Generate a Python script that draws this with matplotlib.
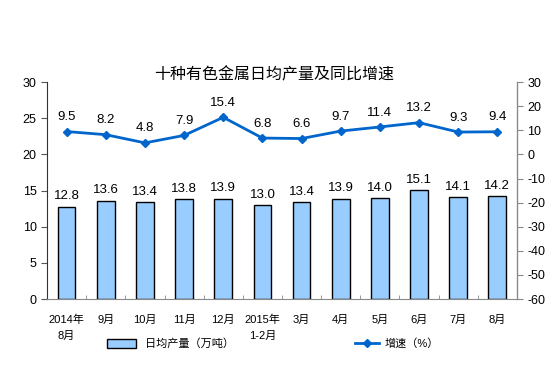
import numpy as np
import matplotlib
matplotlib.use("Agg")
from matplotlib import pyplot as plt
from matplotlib.lines import Line2D
from matplotlib.patches import Patch

plt.rcParams['font.family'] = ['Liberation Sans', 'Noto Sans CJK SC', 'DejaVu Sans']
plt.rcParams['axes.unicode_minus'] = False

months = ["2014年\n8月", "9月", "10月", "11月", "12月", "2015年\n1-2月",
          "3月", "4月", "5月", "6月", "7月", "8月"]
output = [12.8, 13.6, 13.4, 13.8, 13.9, 13.0, 13.4, 13.9, 14.0, 15.1, 14.1, 14.2]
growth = [9.5, 8.2, 4.8, 7.9, 15.4, 6.8, 6.6, 9.7, 11.4, 13.2, 9.3, 9.4]

fig = plt.figure(figsize=(5.54, 3.82), dpi=100)
ax = fig.add_axes([0.085, 0.217, 0.848, 0.568])
ax2 = ax.twinx()

x = np.arange(len(months))
ax.bar(x, output, width=0.45, color="#99CCFF", edgecolor="black", linewidth=1, zorder=2)
for xi, v in zip(x, output):
    ax.text(xi, v + 0.6, f"{v:.1f}", ha="center", va="bottom", fontsize=9.5)

ax2.plot(x, growth, color="#0066CC", lw=2, marker="D", ms=4.5, zorder=3)
for xi, v in zip(x, growth):
    ax2.text(xi, v + 3.5, f"{v:.1f}", ha="center", va="bottom", fontsize=9.5)

ax.set_xlim(-0.5, len(months) - 0.5)
ax.set_ylim(0, 30)
ax.set_yticks(range(0, 31, 5))
ax2.set_ylim(-60, 30)
ax2.set_yticks(range(-60, 31, 10))

ax.set_xticks(x)
ax.set_xticklabels(months, fontsize=8, linespacing=1.7)
ax.set_xticks(np.arange(-0.5, len(months), 1), minor=True)
ax.tick_params(axis="x", which="major", length=0, pad=11)
ax.tick_params(axis="x", which="minor", direction="in", length=3, color="#888888")
ax.tick_params(axis="y", labelsize=9, length=4, color="#555555")
ax2.tick_params(axis="y", labelsize=9, length=4, color="#888888")

for a in (ax, ax2):
    a.spines["top"].set_visible(False)
ax.spines["left"].set_color("#333333")
ax.spines["bottom"].set_color("#888888")
ax2.spines["right"].set_color("#888888")
ax2.spines["left"].set_visible(False)
ax2.spines["bottom"].set_visible(False)

fig.text(0.495, 0.805, "十种有色金属日均产量及同比增速", ha="center", va="center", fontsize=11.5)

h1 = Patch(facecolor="#99CCFF", edgecolor="black")
h2 = Line2D([], [], color="#0066CC", lw=2, marker="D", ms=4.5)
fig.legend([h1], ["日均产量（万吨）"], loc="center left", bbox_to_anchor=(0.175, 0.1),
           frameon=False, fontsize=8, handlelength=2.6, handleheight=0.9)
fig.legend([h2], ["增速（%）"], loc="center left", bbox_to_anchor=(0.622, 0.1),
           frameon=False, fontsize=8, handlelength=2.2, handletextpad=0.5)

fig.savefig("out.png", dpi=100)
